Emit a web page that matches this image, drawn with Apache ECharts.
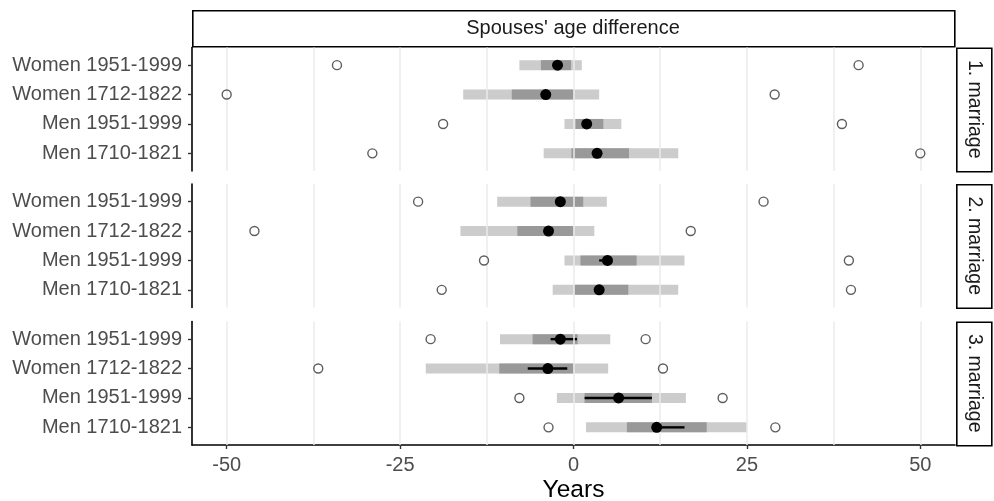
<!DOCTYPE html>
<html>
<head>
<meta charset="utf-8">
<script src="https://cdn.jsdelivr.net/npm/echarts@6/dist/echarts.min.js"></script>
<style>
  html, body { margin: 0; padding: 0; background: #fff; }
  #chart { width: 994px; height: 501px; }
</style>
</head>
<body>
<div id="chart"></div>
<script>
// groups from top to bottom in each panel
var groups = ['Women 1951-1999', 'Women 1712-1822', 'Men 1951-1999', 'Men 1710-1821'];
var panels = ['1. marriage', '2. marriage', '3. marriage'];
var xTicks = [-50, -25, 0, 25, 50];
var gridValues = [-50, -37.5, -25, -12.5, 0, 12.5, 25, 37.5, 50];

// one row per panel, one value per group
var lightLow  = [[-7.8, -15.9, -1.3, -4.3], [-11.0, -16.3, -1.3, -3.0], [-10.6, -21.3, -2.4, 1.8]];
var lightHigh = [[1.2, 3.7, 6.9, 15.1], [4.8, 3.0, 16.0, 15.1], [5.3, 5.0, 16.2, 25.0]];
var darkLow   = [[-4.7, -8.9, 0.3, -0.3], [-6.2, -8.1, 1.0, 0.1], [-5.9, -10.7, 1.6, 7.7]];
var darkHigh  = [[-0.35, 0, 4.3, 8.0], [1.4, 0, 9.1, 7.9], [0.6, 0, 11.3, 19.2]];
var medians   = [[-2.3, -4.0, 1.9, 3.4], [-1.9, -3.6, 4.9, 3.7], [-1.9, -3.7, 6.5, 12.0]];
var ciLow     = [[-2.8, -4.5, 1.5, 3.0], [-2.4, -4.1, 3.7, 3.2], [-3.3, -6.6, 1.6, 11.5]];
var ciHigh    = [[-1.8, -3.5, 2.3, 3.8], [-1.4, -3.1, 5.4, 4.2], [0.5, -0.9, 11.3, 16.0]];
var minVals   = [[-34.1, -50, -18.8, -29.0], [-22.4, -46, -12.9, -19.0], [-20.6, -36.8, -7.8, -3.6]];
var maxVals   = [[41.1, 29.0, 38.7, 50.0], [27.4, 16.9, 39.7, 40.0], [10.4, 12.9, 21.5, 29.1]];

var font = '"Liberation Sans", Arial, sans-serif';
var panelTop = [47.5, 184, 321.5];
var panelH = 123.5;
var left = 192, right = 39;

var chart = echarts.init(document.getElementById('chart'));

var grids = [], xAxes = [], yAxes = [], series = [], graphics = [];

function barRender(color, h) {
  return function (params, api) {
    var a = api.coord([api.value(0), api.value(2)]);
    var b = api.coord([api.value(1), api.value(2)]);
    return {
      type: 'rect',
      shape: { x: a[0], y: a[1] - h / 2, width: b[0] - a[0], height: h },
      style: { fill: color }
    };
  };
}

function ciRender(params, api) {
  var a = api.coord([api.value(0), api.value(2)]);
  var b = api.coord([api.value(1), api.value(2)]);
  return {
    type: 'line',
    shape: { x1: a[0], y1: a[1], x2: b[0], y2: b[1] },
    style: { stroke: '#000', lineWidth: 2.4 }
  };
}

panels.forEach(function (p, i) {
  var last = i === panels.length - 1;
  grids.push({
    left: left, right: right, top: panelTop[i], height: panelH,
    containLabel: false, outerBoundsMode: 'none'
  });
  xAxes.push({
    type: 'value', gridIndex: i, min: -55, max: 55,
    splitLine: { show: false },
    axisLine: { show: last, onZero: false, lineStyle: { color: '#000', width: 1.6 } },
    axisTick: { show: last, customValues: xTicks, length: 4, lineStyle: { color: '#333', width: 1.4 } },
    axisLabel: { show: last, customValues: xTicks, margin: 10, color: '#4d4d4d', fontSize: 20, fontFamily: font },
    name: last ? 'Years' : '', nameLocation: 'middle', nameGap: 33,
    nameTextStyle: { color: '#000', fontSize: 24.5, fontFamily: font }
  });
  yAxes.push({
    type: 'value', gridIndex: i, min: -0.6, max: 3.6, inverse: true,
    splitLine: { show: false },
    axisLine: { show: true, onZero: false, lineStyle: { color: '#000', width: 1.6 } },
    axisTick: { show: true, customValues: [0, 1, 2, 3], length: 4, lineStyle: { color: '#333', width: 1.4 } },
    axisLabel: {
      customValues: [0, 1, 2, 3], margin: 10, color: '#4d4d4d', fontSize: 20, fontFamily: font,
      formatter: function (v) { return groups[v]; }
    }
  });

  var light = [], dark = [], ci = [], med = [], ext = [];
  groups.forEach(function (g, j) {
    light.push([lightLow[i][j], lightHigh[i][j], j]);
    dark.push([darkLow[i][j], darkHigh[i][j], j]);
    ci.push([ciLow[i][j], ciHigh[i][j], j]);
    med.push([medians[i][j], j]);
    ext.push([minVals[i][j], j]);
    ext.push([maxVals[i][j], j]);
  });

  series.push({
    type: 'scatter', xAxisIndex: i, yAxisIndex: i, data: [], silent: true, z: 1,
    markLine: {
      silent: true, symbol: 'none', animation: false,
      label: { show: false },
      lineStyle: { color: '#ebebeb', width: 1.5, type: 'solid' },
      data: gridValues.map(function (v) { return { xAxis: v }; })
    }
  });
  series.push({
    type: 'custom', xAxisIndex: i, yAxisIndex: i, z: 2,
    renderItem: barRender('#cccccc', 10), encode: { x: [0, 1], y: 2 }, data: light
  });
  series.push({
    type: 'custom', xAxisIndex: i, yAxisIndex: i, z: 3,
    renderItem: barRender('#999999', 10), encode: { x: [0, 1], y: 2 }, data: dark
  });
  series.push({
    type: 'custom', xAxisIndex: i, yAxisIndex: i, z: 4,
    renderItem: ciRender, encode: { x: [0, 1], y: 2 }, data: ci
  });
  series.push({
    type: 'scatter', xAxisIndex: i, yAxisIndex: i, z: 5,
    symbol: 'circle', symbolSize: 11, itemStyle: { color: '#000', opacity: 1 }, data: med
  });
  series.push({
    type: 'scatter', xAxisIndex: i, yAxisIndex: i, z: 5,
    symbol: 'circle', symbolSize: 9,
    itemStyle: { color: 'rgba(0,0,0,0)', borderColor: '#5e5e5e', borderWidth: 1.4, opacity: 1 },
    data: ext
  });

  // right facet strip
  graphics.push({
    type: 'rect', left: 956, top: panelTop[i],
    shape: { width: 35, height: panelH },
    style: { fill: '#fff', stroke: '#000', lineWidth: 1.6 }
  });
  graphics.push({
    type: 'text', x: 974, y: panelTop[i] + panelH / 2, rotation: -Math.PI / 2,
    style: { text: p, fill: '#1a1a1a', font: '19.5px ' + font, align: 'center', verticalAlign: 'middle' }
  });
});

// top strip
graphics.push({
  type: 'rect', left: 192, top: 10,
  shape: { width: 762, height: 36 },
  style: { fill: '#fff', stroke: '#000', lineWidth: 1.6 }
});
graphics.push({
  type: 'text', x: 573, y: 28,
  style: { text: "Spouses' age difference", fill: '#1a1a1a', font: '20px ' + font, align: 'center', verticalAlign: 'middle' }
});

chart.setOption({
  animation: false,
  grid: grids,
  xAxis: xAxes,
  yAxis: yAxes,
  series: series,
  graphic: graphics
});
</script>
</body>
</html>
